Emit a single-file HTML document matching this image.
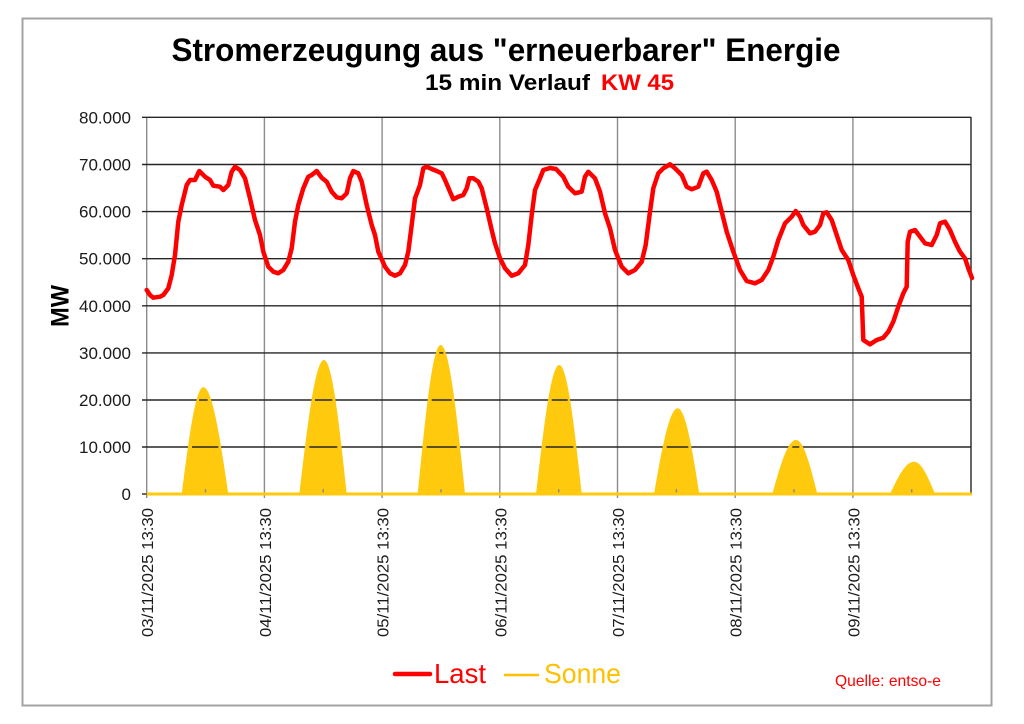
<!DOCTYPE html>
<html><head><meta charset="utf-8"><style>
html,body{margin:0;padding:0;background:#fff;}
svg{display:block;}
text{font-family:"Liberation Sans",Arial,sans-serif;}
</style></head><body>
<svg width="1024" height="724" viewBox="0 0 1024 724" xmlns="http://www.w3.org/2000/svg">
<rect x="0" y="0" width="1024" height="724" fill="#fff"/>
<rect x="22.5" y="18.5" width="969" height="687" fill="#fff" stroke="#a3a3a3" stroke-width="2"/>

<!-- Title -->
<text x="506" y="61" font-size="32" font-weight="bold" text-anchor="middle" fill="#000" textLength="669" lengthAdjust="spacingAndGlyphs">Stromerzeugung aus "erneuerbarer" Energie</text>
<text x="425" y="90" font-size="22" font-weight="bold" fill="#000" textLength="165" lengthAdjust="spacingAndGlyphs">15 min Verlauf</text>
<text x="601" y="90" font-size="22" font-weight="bold" fill="#ff0000" textLength="73" lengthAdjust="spacingAndGlyphs">KW 45</text>

<!-- vertical gridlines -->
<g stroke="#8c8c8c" stroke-width="1.4">
<line x1="146.7" y1="117" x2="146.7" y2="498"/>
<line x1="264.4" y1="117" x2="264.4" y2="498"/>
<line x1="382.1" y1="117" x2="382.1" y2="498"/>
<line x1="499.8" y1="117" x2="499.8" y2="498"/>
<line x1="617.5" y1="117" x2="617.5" y2="498"/>
<line x1="735.2" y1="117" x2="735.2" y2="498"/>
<line x1="852.9" y1="117" x2="852.9" y2="498"/>
</g>
<!-- horizontal gridlines -->
<g stroke="#262626" stroke-width="1.4">
<line x1="142" y1="117.3" x2="971" y2="117.3"/>
<line x1="142" y1="164.5" x2="971" y2="164.5"/>
<line x1="142" y1="211.6" x2="971" y2="211.6"/>
<line x1="142" y1="258.7" x2="971" y2="258.7"/>
<line x1="142" y1="305.8" x2="971" y2="305.8"/>
<line x1="142" y1="352.9" x2="971" y2="352.9"/>
<line x1="142" y1="400" x2="971" y2="400"/>
<line x1="142" y1="447" x2="971" y2="447"/>
<line x1="142" y1="494" x2="147" y2="494"/>
<line x1="971" y1="117" x2="971" y2="494"/>
</g>

<!-- Y labels -->
<g font-size="17" fill="#1a1a1a" text-anchor="end">
<text x="131" y="123.3">80.000</text>
<text x="131" y="170.5">70.000</text>
<text x="131" y="217.6">60.000</text>
<text x="131" y="264.7">50.000</text>
<text x="131" y="311.8">40.000</text>
<text x="131" y="358.9">30.000</text>
<text x="131" y="406">20.000</text>
<text x="131" y="453">10.000</text>
<text x="131" y="500">0</text>
</g>
<text transform="translate(68.3,306) rotate(-90)" font-size="25" font-weight="bold" text-anchor="middle" fill="#000" textLength="42" lengthAdjust="spacingAndGlyphs">MW</text>

<!-- Sun areas -->
<g fill="#ffc90e" stroke="none">
<path d="M181.7,494 C188.8,438.5 195.5,387.3 203.3,387.3 C212.3,387.3 220.05,438.5 228.3,494 Z"/>
<path d="M299.3,494 C307.5,424.3 315.1,360 324,360 C332.2,360 339.2,424.3 346.7,494 Z"/>
<path d="M417.7,494 C425.3,416.5 432.4,345 440.7,345 C449.4,345 457,416.5 465,494 Z"/>
<path d="M536,494 C543.7,426.9 550.9,365 559.3,365 C567.4,365 574.3,426.9 581.7,494 Z"/>
<path d="M654,494 C661.8,449.4 669.2,408.3 677.7,408.3 C685.5,408.3 692.2,449.4 699.3,494 Z"/>
<path d="M772.3,494 C780.1,465.9 787.5,440 796,440 C803.7,440 810.3,465.9 817.3,494 Z"/>
<path d="M890,494 C897.9,477.2 905.4,461.7 914,461.7 C921.6,461.7 928.1,477.2 935,494 Z"/>
</g>
<!-- dashes on sun -->
<g stroke="#262626" stroke-width="1.4">
<line x1="192" y1="447" x2="218.3" y2="447"/>
<line x1="199" y1="400" x2="207.7" y2="400"/>
<line x1="309.3" y1="447" x2="337.3" y2="447"/>
<line x1="315" y1="400" x2="332.3" y2="400"/>
<line x1="426.7" y1="447" x2="456.7" y2="447"/>
<line x1="431.7" y1="400" x2="451.7" y2="400"/>
<line x1="439.3" y1="352.9" x2="443.3" y2="352.9"/>
<line x1="545.7" y1="447" x2="573.3" y2="447"/>
<line x1="551.7" y1="400" x2="567.7" y2="400"/>
<line x1="666.7" y1="447" x2="688.3" y2="447"/>
<line x1="792.3" y1="447" x2="799.3" y2="447"/>
</g>
<g stroke="#8c8c8c" stroke-width="1.4">
<line x1="205.5" y1="489" x2="205.5" y2="494"/>
<line x1="323.2" y1="489" x2="323.2" y2="494"/>
<line x1="441" y1="489" x2="441" y2="494"/>
<line x1="558.7" y1="489" x2="558.7" y2="494"/>
<line x1="676.4" y1="489" x2="676.4" y2="494"/>
<line x1="794" y1="489" x2="794" y2="494"/>
<line x1="911.7" y1="489" x2="911.7" y2="494"/>
</g>
<line x1="146.7" y1="494" x2="972" y2="494" stroke="#ffc90e" stroke-width="3"/>

<!-- Last line -->
<polyline fill="none" stroke="#ff0000" stroke-width="4.5" stroke-linejoin="round" stroke-linecap="round" points="146.7,290 150,295 153.3,297.7 160,296.7 163.3,295 168.3,288.3 171.7,275 175,255 178.3,221.7 181.7,205 186.7,185 190,180 195,180 199.3,171 205,176.7 210,180 213.3,185.7 220,186.7 223.3,190 228.3,185 231.7,171.7 235,166.7 240,170 245,178.3 250,198.3 255,220 260,235 263.3,251.7 268.3,266.7 273.3,271.7 278.3,273.3 283.3,270 288.3,261.7 291.7,248.3 295,221.7 298.3,205 303.3,188.3 308.3,176.7 311.7,175 316.7,171 321.7,177.7 326.7,181.7 331.7,191.7 336.7,197.3 341.7,198.3 346.7,193.3 350,178.3 353.3,171 358.3,173.3 361.7,181.7 366.7,205 371.7,225 375,235 378.3,251.7 385,266.7 390,273.3 395,275.7 400,273.3 405,265 408.3,251.7 411.7,225 415,198.3 420,185 423.3,168.3 426.7,166.7 431.7,169 436.7,171 441.7,173.3 445,180 450,191.7 453.3,199.3 458.3,196.7 463.3,195 466.7,188.3 469.3,178.3 473.3,178.3 478.3,181.7 481.7,188.3 486.7,208.3 491.7,230 495,243.3 500,258.3 505,268.3 511.7,275.7 518.3,273.3 525,265 528.3,245 531.7,215 535,190 540,178.3 543.3,170 550,168 556,169 563.3,176.7 568.3,186.7 575,193.3 581.7,191.7 585,176.7 588.3,171.7 595,178.3 600,191.7 605,213.3 610,228.3 615,250 621.7,266.7 628.3,273.3 635,270 641.7,261.7 645.7,245 650,211.7 653.3,188.3 658.3,173.3 663.3,168.3 670,164.3 675,168.3 681.7,175 686.7,186.7 691.7,189.3 698.3,186.7 703.3,173.3 706.7,171.7 711.7,180 716.7,191.7 721.7,211.7 726.7,231.7 733.3,251.7 740,270 746.7,281 755,283.3 761.7,280 768.3,270 773.3,256.7 778.3,240 785,223.3 791.7,216.7 795.7,211 800,216.7 803.3,225 810,233.3 815,231.7 820,225 823.3,213.3 826.7,212.3 831.7,220 836.7,235 841.7,250 848.3,260 853.3,275 858.3,288.3 861.7,296.7 863.3,340 870,344.3 876.7,340 883.3,337.7 888.3,331.7 893.3,321.7 898.3,306.7 903.3,293.3 906.7,286.7 907.7,241.7 910,231.7 915,230 920,236.7 925,243.3 931.7,245 936.7,235 940,223.3 945,221.7 950,230 955,241.7 960,251.7 965,258.3 968.3,268.3 972,278"/>

<!-- X labels -->
<g font-size="16" fill="#1a1a1a" text-anchor="end">
<text transform="translate(153.2,508) rotate(-90)" textLength="129" lengthAdjust="spacingAndGlyphs">03/11/2025 13:30</text>
<text transform="translate(270.9,508) rotate(-90)" textLength="129" lengthAdjust="spacingAndGlyphs">04/11/2025 13:30</text>
<text transform="translate(388.6,508) rotate(-90)" textLength="129" lengthAdjust="spacingAndGlyphs">05/11/2025 13:30</text>
<text transform="translate(506.3,508) rotate(-90)" textLength="129" lengthAdjust="spacingAndGlyphs">06/11/2025 13:30</text>
<text transform="translate(624,508) rotate(-90)" textLength="129" lengthAdjust="spacingAndGlyphs">07/11/2025 13:30</text>
<text transform="translate(741.7,508) rotate(-90)" textLength="129" lengthAdjust="spacingAndGlyphs">08/11/2025 13:30</text>
<text transform="translate(859.4,508) rotate(-90)" textLength="129" lengthAdjust="spacingAndGlyphs">09/11/2025 13:30</text>
</g>

<!-- Legend -->
<line x1="395" y1="674" x2="430" y2="674" stroke="#ff0000" stroke-width="4.5" stroke-linecap="round"/>
<text x="434" y="683" font-size="28" fill="#ff0000" textLength="52" lengthAdjust="spacingAndGlyphs">Last</text>
<line x1="504" y1="675" x2="539" y2="675" stroke="#ffc000" stroke-width="2.5"/>
<text x="544" y="683" font-size="28" fill="#ffc000" textLength="77" lengthAdjust="spacingAndGlyphs">Sonne</text>
<text x="835" y="686" font-size="16" fill="#ff0000" textLength="106" lengthAdjust="spacingAndGlyphs">Quelle: entso-e</text>
</svg>
</body></html>
